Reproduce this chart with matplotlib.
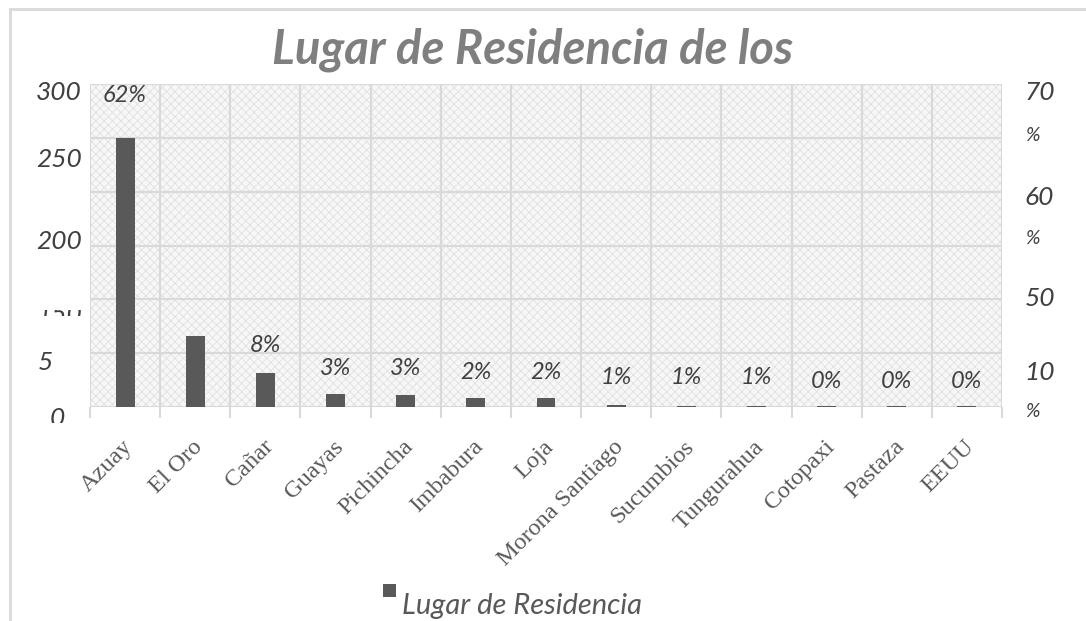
import matplotlib
matplotlib.use("Agg")
import matplotlib.pyplot as plt
from matplotlib.patches import Rectangle
from matplotlib.lines import Line2D
from matplotlib.transforms import Bbox, TransformedBbox, ScaledTranslation

# Datos
lugares = ['Azuay', 'El Oro', 'Cañar', 'Guayas', 'Pichincha', 'Imbabura', 'Loja',
           'Morona Santiago', 'Sucumbios', 'Tungurahua', 'Cotopaxi', 'Pastaza', 'EEUU']
cantidad = [250, 66, 32, 12, 11, 8, 8, 2, 1.3, 1.3, 0.8, 0.8, 0.8]
porcentaje = [62, 16, 8, 3, 3, 2, 2, 1, 1, 1, 0, 0, 0]
etiquetas = ['62%', '', '8%', '3%', '3%', '2%', '2%', '1%', '1%', '1%', '0%', '0%', '0%']

# textos de los ejes tal como salen en la imagen (desordenados)
eje_izq = ['300', '250', '200', '150', '5', '0']
eje_der = ['70', '%', '60', '%', '50', '10', '%']

mano = {'family': 'Lato', 'style': 'italic'}
gris = '#595959'
plt.rcParams['hatch.linewidth'] = 0.6

fig = plt.figure(figsize=(10.86, 6.21), dpi=100)
ax = fig.add_axes([90 / 1086, 1 - 407 / 621, 912 / 1086, 323 / 621])

# fondo con textura
ax.add_patch(Rectangle((0, 0), 1, 1, transform=ax.transAxes, facecolor='#f7f7f7',
                       edgecolor='#e0e0e0', hatch='xxxx', lw=0, zorder=0))

x = list(range(len(lugares)))
ax.bar(x, cantidad, width=0.27, color=gris, zorder=3)
ax.set_xlim(-0.5, len(lugares) - 0.5)
ax.set_ylim(0, 300)
ax.set_yticks([0, 50, 100, 150, 200, 250, 300])
ax.set_yticklabels([])
ax.tick_params(axis='y', length=0)
ax.set_xticks(x)
ax.set_xticklabels(lugares, rotation=45, ha='right', va='top', rotation_mode='anchor',
                   family='Liberation Serif', fontsize=17.5, color=gris)
ax.tick_params(axis='x', which='major', length=0, pad=21)
desplaza = ScaledTranslation(-3 / 100, 0, fig.dpi_scale_trans)
for lbl in ax.get_xticklabels():
    lbl.set_transform(lbl.get_transform() + desplaza)
ax.set_xticks([i - 0.5 for i in range(len(lugares) + 1)], minor=True)
ax.tick_params(axis='x', which='minor', length=8, width=1.5, color='#d9d9d9')
ax.grid(axis='y', color='#d9d9d9', lw=1.5, zorder=1)
ax.grid(axis='x', which='minor', color='#d9d9d9', lw=1.5, zorder=1)
for s in ax.spines.values():
    s.set_visible(False)

# porcentajes en eje secundario
ax2 = ax.twinx()
ax2.set_ylim(0, 70)
ax2.set_yticks([])
for s in ax2.spines.values():
    s.set_visible(False)
for i, (p, t) in enumerate(zip(porcentaje, etiquetas)):
    ax2.annotate(t, (i, p), xytext=(0, 18), textcoords='offset points',
                 ha='center', va='center', fontsize=17, color='#404040', **mano)

# etiquetas de los ejes
pos_izq = [0.975, 0.765, 0.511, 0.285, 0.139, -0.035]
x_izq = [-0.009, -0.009, -0.009, -0.009, -0.040, -0.027]
for t, f, xx in zip(eje_izq, pos_izq, x_izq):
    txt = ax.text(xx, f, t, transform=ax.transAxes, ha='right', va='center',
                  fontsize=19, color='#404040', **mano)
    if t == '150':
        # en la imagen original solo asoma la parte de arriba
        txt.set_clip_box(TransformedBbox(Bbox([[0, 1 - 316 / 621], [1, 1 - 310 / 621]]),
                                         fig.transFigure))
        txt.set_clip_on(True)
    if t == '0':
        txt.set_clip_box(TransformedBbox(Bbox([[0, 1 - 423 / 621], [1, 1]]),
                                         fig.transFigure))
        txt.set_clip_on(True)
pos_der = [0.975, 0.842, 0.65, 0.523, 0.337, 0.108, -0.015]
for t, f in zip(eje_der, pos_der):
    ax.text(1.025, f, t, transform=ax.transAxes, ha='left', va='center',
            fontsize=19 if t != '%' else 14, color='#404040', **mano)

fig.text(0.49, 1 - 50 / 621, 'Lugar de Residencia de los', ha='center', va='center',
         fontsize=34, color='#7f7f7f', weight='bold', **mano)

# leyenda
fig.add_artist(Rectangle((383 / 1086, 1 - 597 / 621), 13 / 1086, 13 / 621,
                         facecolor=gris, edgecolor='none'))
fig.text(402 / 1086, 1 - 606 / 621, 'Lugar de Residencia', ha='left', va='center',
         fontsize=21, color=gris, **mano)

# borde
fig.add_artist(Line2D([10 / 1086, 10 / 1086], [0, 1 - 9 / 621], color='#d9d9d9', lw=2))
fig.add_artist(Line2D([10 / 1086, 1], [1 - 9 / 621, 1 - 9 / 621], color='#d9d9d9', lw=2))

fig.savefig('out.png', dpi=100)
